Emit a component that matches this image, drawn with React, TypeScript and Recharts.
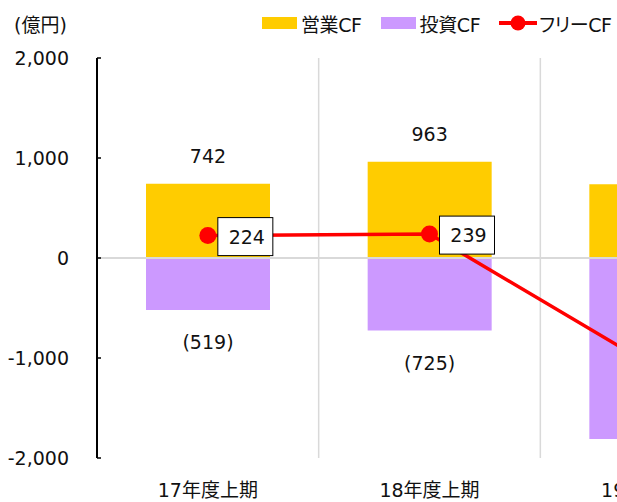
import React from 'react';
import {
  ComposedChart,
  Bar,
  Line,
  XAxis,
  YAxis,
  ReferenceLine,
  LabelList,
  Legend,
} from 'recharts';

const categories = ['17年度上期', '18年度上期', '19年度上期'];
const operatingCF = [742, 963, 738];
const investingCF = [-519, -725, -1810];
const freeCF = [224, 239, -1072];
const yTicks = [-2000, -1000, 0, 1000, 2000];
const categoryBoundaries = [1, 2];
const seriesNames = { op: '営業CF', inv: '投資CF', free: 'フリーCF' };
const legendOrder = ['op', 'inv', 'free'];

const data = categories.map((name, i) => ({
  name,
  pos: i + 0.5,
  op: operatingCF[i],
  inv: investingCF[i],
  free: freeCF[i],
}));

const FONT = '"DejaVu Sans", "Noto Sans CJK JP", sans-serif';
const TEXT = '#111';
const YELLOW = '#FFCC00';
const PURPLE = '#CC99FF';
const RED = '#FF0000';
const GRID = '#d9d9d9';

const fmt = (v: number) =>
  v < 0 ? `(${Math.abs(v).toLocaleString('en-US')})` : v.toLocaleString('en-US');

const TopLabel = (props: any) => {
  const { x, y, width, height, value } = props;
  const top = Math.min(y, y + height);
  return (
    <text x={x + width / 2} y={top - 28} textAnchor="middle" dominantBaseline="central" fill={TEXT} fontSize={19} fontFamily={FONT}>
      {fmt(value)}
    </text>
  );
};

const BottomLabel = (props: any) => {
  const { x, y, width, height, value } = props;
  const bottom = Math.max(y, y + height);
  return (
    <text x={x + width / 2} y={bottom + 32} textAnchor="middle" dominantBaseline="central" fill={TEXT} fontSize={19} fontFamily={FONT}>
      {fmt(value)}
    </text>
  );
};

const BoxLabel = (props: any) => {
  const { x, y, value } = props;
  return (
    <g>
      <rect x={x + 10} y={y - 18} width={55} height={38} fill="#fff" stroke="#000" strokeWidth={1} />
      <text x={x + 39} y={y + 1} textAnchor="middle" dominantBaseline="central" fill={TEXT} fontSize={19} fontFamily={FONT}>
        {fmt(value)}
      </text>
    </g>
  );
};

const renderLegend = (props: any) => {
  const payload = [...(props.payload || [])].sort(
    (a: any, b: any) => legendOrder.indexOf(a.dataKey) - legendOrder.indexOf(b.dataKey)
  );
  return (
    <div
      style={{
        display: 'flex',
        alignItems: 'center',
        fontFamily: FONT,
        fontSize: 19,
        color: TEXT,
        height: 24,
        whiteSpace: 'nowrap',
        fontFeatureSettings: '"palt"',
        letterSpacing: -0.4,
      }}
    >
      {payload.map((p: any, i: number) => (
        <div key={i} style={{ display: 'flex', alignItems: 'center', marginRight: i < payload.length - 1 ? 19 : 0 }}>
          {p.type === 'line' ? (
            <svg width={38} height={16} style={{ display: 'block' }}>
              <line x1={0} y1={8} x2={38} y2={8} stroke={p.color} strokeWidth={4} />
              <circle cx={19} cy={8} r={7.5} fill={p.color} />
            </svg>
          ) : (
            <svg width={35} height={12} style={{ display: 'block' }}>
              <rect x={0} y={0} width={35} height={12} fill={p.color} />
            </svg>
          )}
          <span style={{ marginLeft: p.type === 'line' ? 2 : 4 }}>{p.value}</span>
        </div>
      ))}
    </div>
  );
};

export default function App() {
  return (
    <div style={{ position: 'absolute', left: 0, top: 0, width: 617, height: 502, overflow: 'hidden', background: '#fff' }}>
      <ComposedChart
        width={770}
        height={502}
        data={data}
        stackOffset="sign"
        margin={{ top: 58, right: 8, bottom: 0, left: 0 }}
        style={{ fontFamily: FONT }}
      >
        <XAxis
          dataKey="name"
          axisLine={false}
          tickLine={false}
          tickSize={0}
          tickMargin={26}
          height={44}
          interval={0}
          tick={{ fill: TEXT, fontSize: 19, fontFamily: FONT }}
        />
        <XAxis xAxisId="b" type="number" dataKey="pos" domain={[0, 3]} allowDataOverflow hide />
        <YAxis
          width={97}
          domain={[-2000, 2000]}
          ticks={yTicks}
          interval={0}
          tickFormatter={(v: number) => v.toLocaleString('en-US')}
          axisLine={{ stroke: '#000', strokeWidth: 2 }}
          tickLine={{ stroke: '#000', strokeWidth: 1.5 }}
          tickSize={-4}
          tickMargin={32}
          tick={{ fill: TEXT, fontSize: 19, fontFamily: FONT }}
          label={() => (
            <text x={14} y={25} textAnchor="start" dominantBaseline="central" fill={TEXT} fontSize={19} fontFamily={FONT}>
              (億円)
            </text>
          )}
        />
        {categoryBoundaries.map((b) => (
          <ReferenceLine key={b} xAxisId="b" x={b} stroke={GRID} strokeWidth={1.5} />
        ))}
        <Bar dataKey="op" name={seriesNames.op} stackId="a" fill={YELLOW} barSize={124} isAnimationActive={false}>
          <LabelList dataKey="op" content={TopLabel} />
        </Bar>
        <Bar dataKey="inv" name={seriesNames.inv} stackId="a" fill={PURPLE} barSize={124} isAnimationActive={false}>
          <LabelList dataKey="inv" content={BottomLabel} />
        </Bar>
        <ReferenceLine y={0} stroke={GRID} strokeWidth={2} />
        <Line
          dataKey="free"
          name={seriesNames.free}
          stroke={RED}
          strokeWidth={3.5}
          dot={{ r: 8.5, fill: RED, stroke: 'none' }}
          activeDot={false}
          legendType="line"
          isAnimationActive={false}
        >
          <LabelList dataKey="free" content={BoxLabel} />
        </Line>
        <Legend
          layout="vertical"
          align="center"
          verticalAlign="middle"
          content={renderLegend}
          wrapperStyle={{ position: 'absolute', top: 11, left: 262, width: 360, height: 24 }}
        />
      </ComposedChart>
    </div>
  );
}
